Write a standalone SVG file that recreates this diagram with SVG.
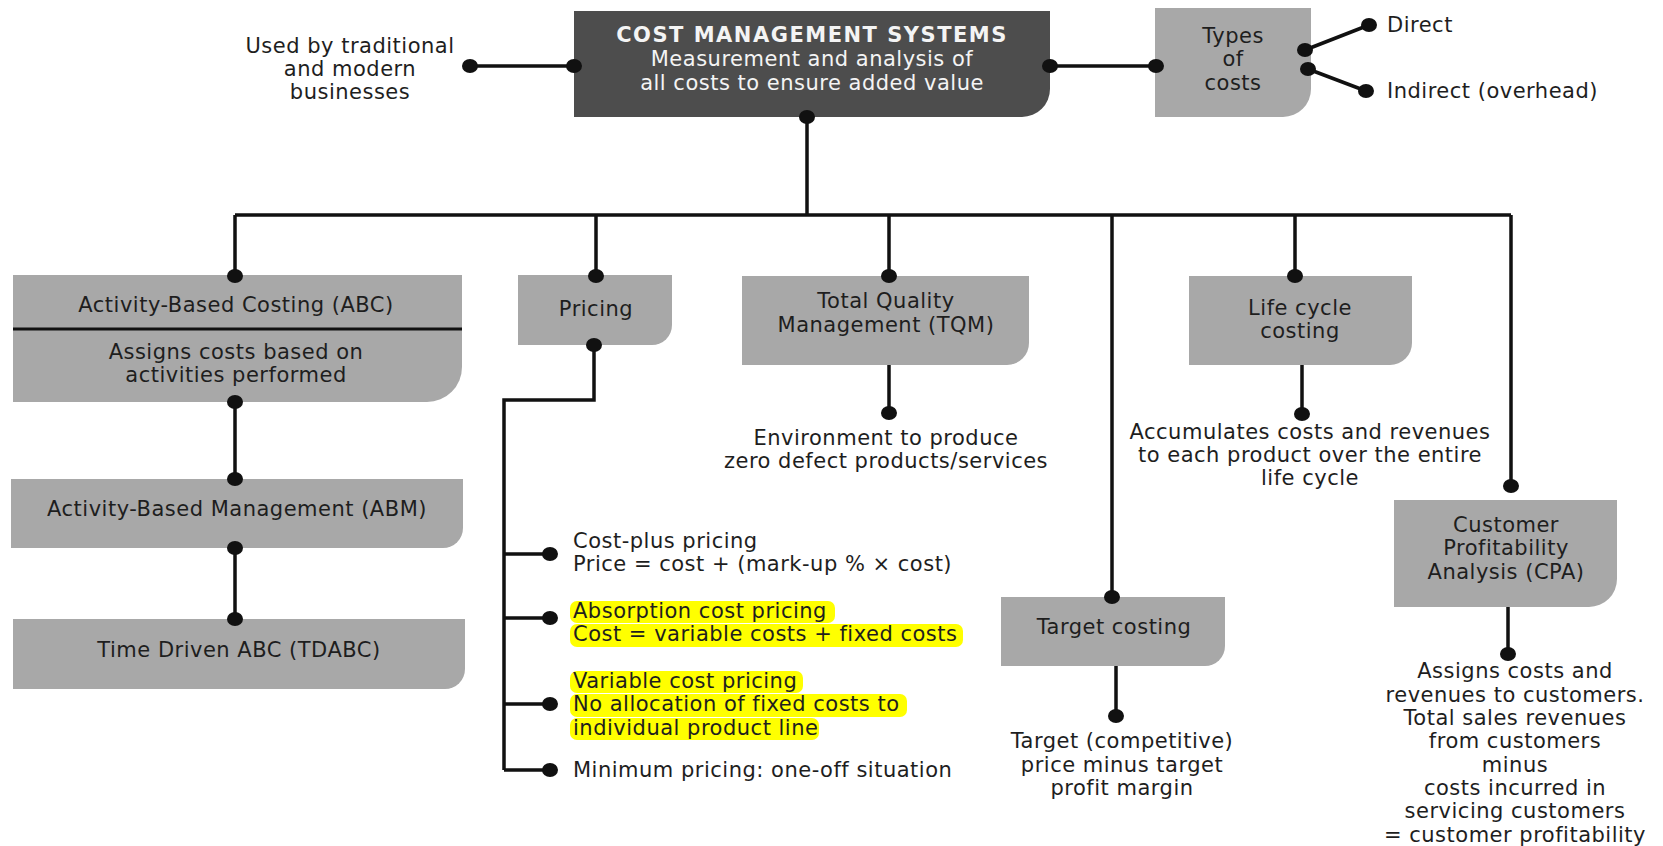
<svg xmlns="http://www.w3.org/2000/svg" width="1663" height="846" viewBox="0 0 1663 846">
<style>
text{font-family:"DejaVu Sans","Liberation Sans",sans-serif;font-size:21px;fill:#1e1e1e;letter-spacing:0.5px}
.c{text-anchor:middle}
.w{fill:#f4f4f4}
.b{font-weight:bold}
.box{fill:#a8a8a8}
.dark{fill:#4d4d4d}
.ln{stroke:#111;stroke-width:3.5;fill:none}
.dot{fill:#111}
.hl{fill:#ffff00}
</style>
<rect width="1663" height="846" fill="#ffffff"/>
<g id="connectors">
<path class="ln" d="M470,66H574M1050,66H1156M1305,50L1369,25M1308,69L1366,91M807,117V215M235,215H1511M235,215V276M596,215V276M889,215V276M1112,215V597M1295,215V276M1511,215V486M235,402V479M235,548V619M594,345V400H504V770M504,554H550M504,618H550M504,704H550M504,770H550M889,365V413M1302,365V414M1116,666V716M1508,607V654"/>
</g>
<g id="cms">
<path class="dark" d="M574,11H1050V89A28,28 0 0 1 1022,117H574Z"/>
<text class="c w b" x="812" y="42" style="letter-spacing:1.5px">COST MANAGEMENT SYSTEMS</text>
<text class="c w" x="812" y="66">Measurement and analysis of</text>
<text class="c w" x="812" y="90">all costs to ensure added value</text>
</g>
<g id="used">
<text class="c" x="350" y="53">Used by traditional</text>
<text class="c" x="350" y="76">and modern</text>
<text class="c" x="350" y="99">businesses</text>
</g>
<g id="types">
<path class="box" d="M1155,8H1311V89A28,28 0 0 1 1283,117H1155Z"/>
<text class="c" x="1233" y="43">Types</text>
<text class="c" x="1233" y="66">of</text>
<text class="c" x="1233" y="90">costs</text>
</g>
<g id="direct"><text x="1387" y="32">Direct</text></g>
<g id="indirect"><text x="1387" y="98">Indirect (overhead)</text></g>
<g id="abc">
<path class="box" d="M13,275H462V367A35,35 0 0 1 427,402H13Z"/>
<line x1="13" y1="329" x2="462" y2="329" stroke="#111" stroke-width="3"/>
<text class="c" x="236" y="312">Activity-Based Costing (ABC)</text>
<text class="c" x="236" y="359">Assigns costs based on</text>
<text class="c" x="236" y="382">activities performed</text>
</g>
<g id="abm">
<path class="box" d="M11,479H463V528A20,20 0 0 1 443,548H11Z"/>
<text class="c" x="237" y="516">Activity-Based Management (ABM)</text>
</g>
<g id="tdabc">
<path class="box" d="M13,619H465V669A20,20 0 0 1 445,689H13Z"/>
<text class="c" x="239" y="657">Time Driven ABC (TDABC)</text>
</g>
<g id="pricing">
<path class="box" d="M518,275H672V325A20,20 0 0 1 652,345H518Z"/>
<text class="c" x="596" y="316">Pricing</text>
</g>
<g id="pricing-items">
<rect class="hl" x="570" y="601" width="265" height="22" rx="7"/>
<rect class="hl" x="570" y="624" width="393" height="23" rx="7"/>
<rect class="hl" x="570" y="671" width="233" height="22" rx="7"/>
<rect class="hl" x="570" y="694" width="337" height="23" rx="7"/>
<rect class="hl" x="570" y="718" width="249" height="22" rx="7"/>
<text x="573" y="548">Cost-plus pricing</text>
<text x="573" y="571">Price = cost + (mark-up % × cost)</text>
<text x="573" y="618">Absorption cost pricing</text>
<text x="573" y="641">Cost = variable costs + fixed costs</text>
<text x="573" y="688">Variable cost pricing</text>
<text x="573" y="711">No allocation of fixed costs to</text>
<text x="573" y="735">individual product line</text>
<text x="573" y="777">Minimum pricing: one-off situation</text>
</g>
<g id="tqm">
<path class="box" d="M742,276H1029V343A22,22 0 0 1 1007,365H742Z"/>
<text class="c" x="886" y="308">Total Quality</text>
<text class="c" x="886" y="332">Management (TQM)</text>
<text class="c" x="886" y="445">Environment to produce</text>
<text class="c" x="886" y="468">zero defect products/services</text>
</g>
<g id="lifecycle">
<path class="box" d="M1189,276H1412V343A22,22 0 0 1 1390,365H1189Z"/>
<text class="c" x="1300" y="315">Life cycle</text>
<text class="c" x="1300" y="338">costing</text>
<text class="c" x="1310" y="439">Accumulates costs and revenues</text>
<text class="c" x="1310" y="462">to each product over the entire</text>
<text class="c" x="1310" y="485">life cycle</text>
</g>
<g id="target">
<path class="box" d="M1001,597H1225V646A20,20 0 0 1 1205,666H1001Z"/>
<text class="c" x="1114" y="634">Target costing</text>
<text class="c" x="1122" y="748">Target (competitive)</text>
<text class="c" x="1122" y="772">price minus target</text>
<text class="c" x="1122" y="795">profit margin</text>
</g>
<g id="cpa">
<path class="box" d="M1394,500H1617V579A28,28 0 0 1 1589,607H1394Z"/>
<text class="c" x="1506" y="532">Customer</text>
<text class="c" x="1506" y="555">Profitability</text>
<text class="c" x="1506" y="579">Analysis (CPA)</text>
<text class="c" x="1515" y="678">Assigns costs and</text>
<text class="c" x="1515" y="702">revenues to customers.</text>
<text class="c" x="1515" y="725">Total sales revenues</text>
<text class="c" x="1515" y="748">from customers</text>
<text class="c" x="1515" y="772">minus</text>
<text class="c" x="1515" y="795">costs incurred in</text>
<text class="c" x="1515" y="818">servicing customers</text>
<text class="c" x="1515" y="842">= customer profitability</text>
</g>
<g id="dots">
<ellipse class="dot" cx="470" cy="66" rx="8" ry="7"/>
<ellipse class="dot" cx="574" cy="66" rx="8" ry="7"/>
<ellipse class="dot" cx="1050" cy="66" rx="8" ry="7"/>
<ellipse class="dot" cx="1156" cy="66" rx="8" ry="7"/>
<ellipse class="dot" cx="1305" cy="50" rx="8" ry="7"/>
<ellipse class="dot" cx="1369" cy="25" rx="8" ry="7"/>
<ellipse class="dot" cx="1308" cy="69" rx="8" ry="7"/>
<ellipse class="dot" cx="1366" cy="91" rx="8" ry="7"/>
<ellipse class="dot" cx="807" cy="117" rx="8" ry="7"/>
<ellipse class="dot" cx="235" cy="276" rx="8" ry="7"/>
<ellipse class="dot" cx="596" cy="276" rx="8" ry="7"/>
<ellipse class="dot" cx="889" cy="276" rx="8" ry="7"/>
<ellipse class="dot" cx="1112" cy="597" rx="8" ry="7"/>
<ellipse class="dot" cx="1295" cy="276" rx="8" ry="7"/>
<ellipse class="dot" cx="1511" cy="486" rx="8" ry="7"/>
<ellipse class="dot" cx="235" cy="402" rx="8" ry="7"/>
<ellipse class="dot" cx="235" cy="479" rx="8" ry="7"/>
<ellipse class="dot" cx="235" cy="548" rx="8" ry="7"/>
<ellipse class="dot" cx="235" cy="619" rx="8" ry="7"/>
<ellipse class="dot" cx="594" cy="345" rx="8" ry="7"/>
<ellipse class="dot" cx="550" cy="554" rx="8" ry="7"/>
<ellipse class="dot" cx="550" cy="618" rx="8" ry="7"/>
<ellipse class="dot" cx="550" cy="704" rx="8" ry="7"/>
<ellipse class="dot" cx="550" cy="770" rx="8" ry="7"/>
<ellipse class="dot" cx="889" cy="413" rx="8" ry="7"/>
<ellipse class="dot" cx="1302" cy="414" rx="8" ry="7"/>
<ellipse class="dot" cx="1116" cy="716" rx="8" ry="7"/>
<ellipse class="dot" cx="1508" cy="654" rx="8" ry="7"/>
</g>
</svg>
